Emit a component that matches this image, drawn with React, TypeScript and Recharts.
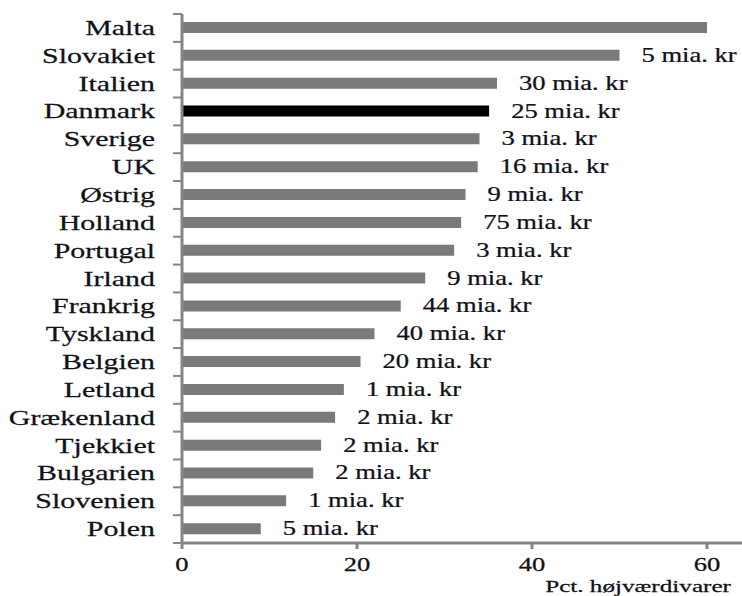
import { BarChart, Bar, XAxis, YAxis, Cell, LabelList, Label } from "recharts";

const countries = [
  "Malta",
  "Slovakiet",
  "Italien",
  "Danmark",
  "Sverige",
  "UK",
  "Østrig",
  "Holland",
  "Portugal",
  "Irland",
  "Frankrig",
  "Tyskland",
  "Belgien",
  "Letland",
  "Grækenland",
  "Tjekkiet",
  "Bulgarien",
  "Slovenien",
  "Polen",
];
const shares = [
  60, 50, 36, 35.1, 34, 33.8, 32.4, 31.9, 31.1, 27.8, 25, 22, 20.4, 18.5, 17.5,
  15.9, 15, 11.9, 9,
];
const volumes = [
  "",
  "5 mia. kr",
  "30 mia. kr",
  "25 mia. kr",
  "3 mia. kr",
  "16 mia. kr",
  "9 mia. kr",
  "75 mia. kr",
  "3 mia. kr",
  "9 mia. kr",
  "44 mia. kr",
  "40 mia. kr",
  "20 mia. kr",
  "1 mia. kr",
  "2 mia. kr",
  "2 mia. kr",
  "2 mia. kr",
  "1 mia. kr",
  "5 mia. kr",
];
const xTicks = [0, 20, 40, 60];
const highlight = "Danmark";

const data = countries.map((c, i) => ({
  country: c,
  share: shares[i],
  volume: volumes[i],
}));

const W = 742;
const H = 596;
const M = { top: 14, right: 0, bottom: 23, left: 0 };
const X_AXIS_H = 30;
const STEP = (H - M.top - M.bottom - X_AXIS_H) / countries.length;
const FONT = "Liberation Serif";
const STRETCH = 1.33;
const AXIS = "#858585";
const INK = "#111118";
// the source image is stretched sideways, so text is widened to match
const txt = { fontFamily: FONT, stroke: INK, strokeWidth: 0.25 };

function CountryTick(props: any) {
  const { x, y, payload, index } = props;
  const last = index === countries.length - 1;
  return (
    <g>
      <line x1={x - 9} x2={x} y1={y - STEP / 2} y2={y - STEP / 2} stroke={AXIS} strokeWidth={2} />
      {last && (
        <line x1={x - 9} x2={x} y1={y + STEP / 2} y2={y + STEP / 2} stroke={AXIS} strokeWidth={2} />
      )}
      <text
        transform={`translate(${x - 27},${y + 7}) scale(1.36,1)`}
        textAnchor="end"
        style={txt}
        fontSize={22}
        fill={INK}
      >
        {payload.value}
      </text>
    </g>
  );
}

function ValueTick(props: any) {
  const { x, y, payload } = props;
  return (
    <text
      transform={`translate(${x},${y + 22}) scale(1.4,1)`}
      textAnchor="middle"
      style={txt}
      fontSize={19}
      fill={INK}
    >
      {payload.value}
    </text>
  );
}

function VolumeLabel(props: any) {
  const { x, y, width, height, value } = props;
  if (!value) return null;
  return (
    <text
      transform={`translate(${x + width + 22},${y + height / 2 + 6.5}) scale(${STRETCH},1)`}
      style={txt}
      fontSize={20}
      fill={INK}
    >
      {value}
    </text>
  );
}

function AxisTitle(props: any) {
  const { viewBox } = props;
  return (
    <text
      transform={`translate(${viewBox.x + viewBox.width - 11},${viewBox.y + 49}) scale(1.48,1)`}
      textAnchor="end"
      style={txt}
      fontSize={17}
      fill={INK}
    >
      Pct. højværdivarer
    </text>
  );
}

export default function App() {
  return (
    <div style={{ position: "absolute", left: 0, top: 0, background: "white" }}>
      <BarChart width={W} height={H} data={data} layout="vertical" margin={M}>
        <XAxis
          type="number"
          domain={[0, 64]}
          ticks={xTicks}
          height={X_AXIS_H}
          axisLine={{ stroke: AXIS, strokeWidth: 3 }}
          tickLine={{ stroke: AXIS, strokeWidth: 3 }}
          tickSize={6}
          tickMargin={0}
          tick={<ValueTick />}
        >
          <Label content={<AxisTitle />} />
        </XAxis>
        <XAxis
          xAxisId="top"
          orientation="top"
          type="number"
          domain={[0, 64]}
          height={0}
          tick={false}
          tickLine={false}
          axisLine={{ stroke: "#2a2a2a", strokeWidth: 2 }}
        />
        <YAxis
          type="category"
          dataKey="country"
          width={182}
          interval={0}
          tickLine={false}
          tickSize={0}
          tickMargin={0}
          axisLine={{ stroke: AXIS, strokeWidth: 3 }}
          tick={<CountryTick />}
        />
        <Bar dataKey="share" barSize={11} isAnimationActive={false}>
          {data.map((d) => (
            <Cell key={d.country} fill={d.country === highlight ? "#000000" : "#7a7a7a"} />
          ))}
          <LabelList dataKey="volume" content={<VolumeLabel />} />
        </Bar>
      </BarChart>
    </div>
  );
}
